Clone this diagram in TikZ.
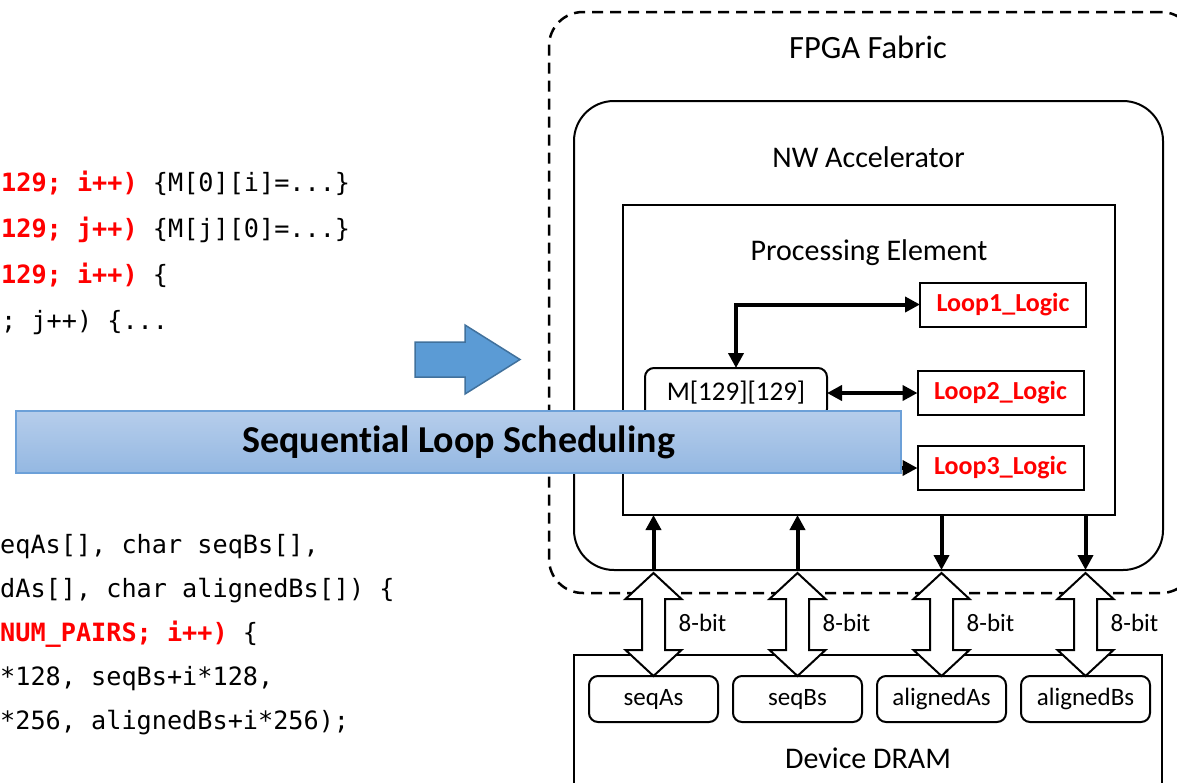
\documentclass[tikz,border=0pt]{standalone}
\usepackage{fontspec}
\setmainfont{Carlito}[Ligatures={NoCommon}]
\setmonofont{DejaVu Sans Mono}
\usetikzlibrary{arrows.meta,positioning}

\definecolor{codered}{RGB}{255,0,0}
\definecolor{arrowblue}{RGB}{91,155,213}
\definecolor{arrowedge}{RGB}{65,113,156}
\definecolor{bannertop}{RGB}{182,205,235}
\definecolor{bannerbot}{RGB}{148,184,226}
\definecolor{banneredge}{RGB}{108,160,216}

\tikzset{%
  >={Triangle[width=15pt,length=15pt]},
  % Specifications for style of nodes:
       base/.style = {rectangle, draw=black, line width=2pt, outer sep=0pt,
                      inner sep=0pt, text centered},
    dashbox/.style = {base, line width=2.5pt, dash pattern=on 11pt off 7pt,
                      rounded corners=34pt},
      title/.style = {font=\fontsize{30}{35}\selectfont, inner sep=0pt},
      logic/.style = {base, minimum width=166pt, minimum height=44pt,
                      text=codered, font=\bfseries\fontsize{26}{30}\selectfont},
     buffer/.style = {base, rounded corners=9pt, minimum width=129pt,
                      minimum height=46pt, font=\fontsize{25}{30}\selectfont},
   bitlabel/.style = {font=\fontsize{25}{30}\selectfont, inner sep=0pt},
       code/.style = {font=\ttfamily\fontsize{25.2}{30}\selectfont,
                      inner sep=0pt, anchor=base west},
       link/.style = {draw=black, line width=4pt},
        bus/.style = {draw=black, fill=white, line width=2pt, line join=miter},
     banner/.style = {rectangle, draw=banneredge, line width=2pt,
                      top color=bannertop, bottom color=bannerbot,
                      minimum width=885pt, minimum height=62pt,
                      font=\bfseries\fontsize{38}{44}\selectfont},
}

\begin{document}
\begin{tikzpicture}[x=1pt, y=-1pt, node distance=15pt]
\useasboundingbox (0,0) rectangle (1177,782);
\clip (0,0) rectangle (1177,782);

% code fragments on the left
\node (c1) [code] at (1,191) {\textcolor{codered}{\bfseries 129; i++)} \{M[0][i]=...\}};
\node (c2) [code] at (1,237) {\textcolor{codered}{\bfseries 129; j++)} \{M[j][0]=...\}};
\node (c3) [code] at (1,283) {\textcolor{codered}{\bfseries 129; i++)} \{};
\node (c4) [code] at (1,329) {; j++) \{...};

\node (d1) [code] at (0,553) {eqAs[], char seqBs[],};
\node (d2) [code] at (0,597) {dAs[], char alignedBs[]) \{};
\node (d3) [code] at (0,641) {\textcolor{codered}{\bfseries NUM\_PAIRS; i++)} \{};
\node (d4) [code] at (0,685) {*128, seqBs+i*128,};
\node (d5) [code] at (0,729) {*256, alignedBs+i*256);};

% FPGA side
\node (fabric) [dashbox, minimum width=646pt, minimum height=581pt] at (872,302.5) {};
\node (fabricT) [title, font=\fontsize{32.5}{38}\selectfont] at (868,47) {FPGA Fabric};

\node (nwacc) [base, rounded corners=40pt, minimum width=589pt, minimum height=469pt] at (868.5,335.5) {};
\node (nwaccT) [title] at (868.5,157) {NW Accelerator};

\node (pe) [base, minimum width=492pt, minimum height=310pt] at (869,360) {};
\node (peT) [title] at (869,253) {Processing Element};

\node (mem) [base, rounded corners=9pt, minimum width=182pt, minimum height=50pt,
             font=\fontsize{27}{31}\selectfont] at (736,393) {M[129][129]};

\node (loop1) [logic] at (1003,304.5) {Loop1\_Logic};
\node (loop2) [logic] at (1000.5,393) {Loop2\_Logic};
\node (loop3) [logic] at (1000.5,468) {Loop3\_Logic};

\draw[link, <->] (mem.north) |- (loop1.west);
\draw[link, <->] (mem.east) -- (loop2.west);
\draw[link, <->] (mem.south) |- (loop3.west);

% device memory
\node (dram) [base, minimum width=588pt, minimum height=145pt] at (868,727.5) {};
\node (dramT) [title] at (868,758) {Device DRAM};

\node (seqAs)     [buffer] at (653.5,699) {seqAs};
\node (seqBs)     [buffer, right=of seqAs] {seqBs};
\node (alignedAs) [buffer, right=of seqBs] {alignedAs};
\node (alignedBs) [buffer, right=of alignedAs] {alignedBs};

\draw[link, ->] (seqAs.north |- nwacc.south) -- (seqAs.north |- pe.south);
\draw[link, ->] (seqBs.north |- nwacc.south) -- (seqBs.north |- pe.south);
\draw[link, ->] (alignedAs.north |- pe.south) -- (alignedAs.north |- nwacc.south);
\draw[link, ->] (alignedBs.north |- pe.south) -- (alignedBs.north |- nwacc.south);

\foreach \buf in {seqAs,seqBs,alignedAs,alignedBs}{
  \draw[bus] (\buf.north) -- ++(-28,-26) -- ++(16.5,0) -- ++(0,-51) -- ++(-16.5,0)
    -- ++(28,-26) -- ++(28,26) -- ++(-16.5,0) -- ++(0,51) -- ++(16.5,0) -- cycle;
  \path (\buf.north) ++(49,-53) node (bit\buf) [bitlabel] {8-bit};
}

% big arrow and banner
\draw[fill=arrowblue, draw=arrowedge, line width=1.5pt, line join=miter]
  (415,342) -- (465,342) -- (465,325) -- (520,359.5) -- (465,394) -- (465,377) -- (415,377) -- cycle;

\node (sched) [banner] at (458.5,442) {Sequential Loop Scheduling};
\end{tikzpicture}
\end{document}
